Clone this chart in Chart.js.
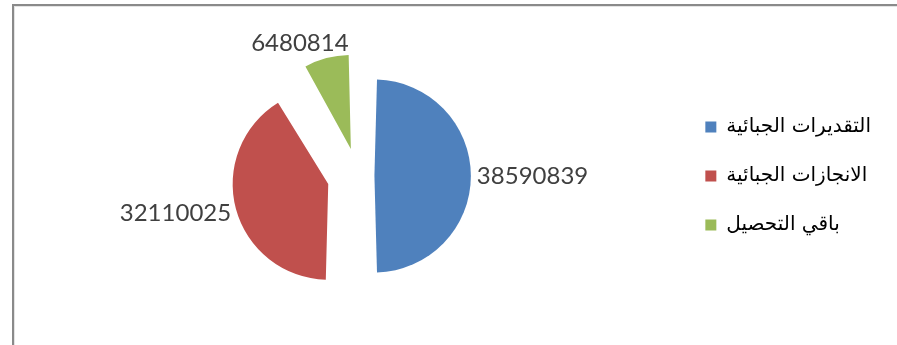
<!DOCTYPE html>
<html lang="ar">
  <head>
    <meta charset="UTF-8" />
    <title>Tax collection</title>
    <script src="https://cdn.jsdelivr.net/npm/chart.js"></script>
    <style>
      html, body { margin: 0; padding: 0; background: #fff; overflow: hidden; }
      #frame {
        position: absolute;
        left: 12px;
        top: 4px;
        width: 900px;
        height: 400px;
        border: 2px solid #8a8a8a;
        box-shadow: inset 1px 1px 0 #e4e4e4;
      }
      #wrap { position: absolute; left: 0; top: 0; width: 897px; height: 345px; }
    </style>
  </head>
  <body>
    <div id="frame"></div>
    <div id="wrap"><canvas id="pieChart" width="897" height="345"></canvas></div>

    <script>
      // categories and values
      const labels = ["التقديرات الجبائية", "الانجازات الجبائية", "باقي التحصيل"];
      const values = [38590839, 32110025, 6480814];
      const colors = ["#4F81BD", "#C0504D", "#9BBB59"];
      const explode = [65, 124, 112];

      // value labels just outside each (exploded) slice
      const valueLabels = {
        id: "valueLabels",
        afterDatasetsDraw(chart) {
          const ctx = chart.ctx;
          const meta = chart.getDatasetMeta(0);
          ctx.save();
          ctx.font = "24px Lato";
          ctx.fillStyle = "#404040";
          ctx.textAlign = "center";
          ctx.textBaseline = "middle";
          meta.data.forEach((arc, i) => {
            const p = arc.getProps(["x", "y", "startAngle", "endAngle", "outerRadius"], true);
            const mid = (p.startAngle + p.endAngle) / 2;
            const circ = p.endAngle - p.startAngle;
            // the arc element moves by offset/4 and grows its radius by offset/4 * fix
            const off = (arc.options.offset || 0) / 4;
            const fix = 1 - Math.sin(Math.min(Math.PI, circ));
            const cos = Math.cos(mid), sin = Math.sin(mid);
            const text = String(values[i]);
            const w = ctx.measureText(text).width;
            const h = 18;
            const r = p.outerRadius + off * fix + off + 6;
            const kx = Math.sign(cos) * Math.sqrt(Math.abs(cos));
            const x = p.x + cos * r + kx * w / 2;
            const y = p.y + sin * r + sin * h / 2;
            ctx.fillText(text, x, y);
          });
          ctx.restore();
        },
      };

      new Chart(document.getElementById("pieChart"), {
        type: "pie",
        data: {
          labels: labels,
          datasets: [
            {
              data: values,
              backgroundColor: colors,
              borderWidth: 0,
              offset: explode,
            },
          ],
        },
        options: {
          responsive: false,
          animation: false,
          radius: 80.2,
          layout: { padding: { left: 40, top: 7, right: 16, bottom: 0 } },
          plugins: {
            tooltip: { enabled: false },
            legend: {
              position: "right",
              labels: {
                boxWidth: 11,
                boxHeight: 11,
                padding: 29,
                color: "#000",
                font: { family: "'DejaVu Sans'", size: 20 },
              },
            },
          },
        },
        plugins: [valueLabels],
      });
    </script>
  </body>
</html>
